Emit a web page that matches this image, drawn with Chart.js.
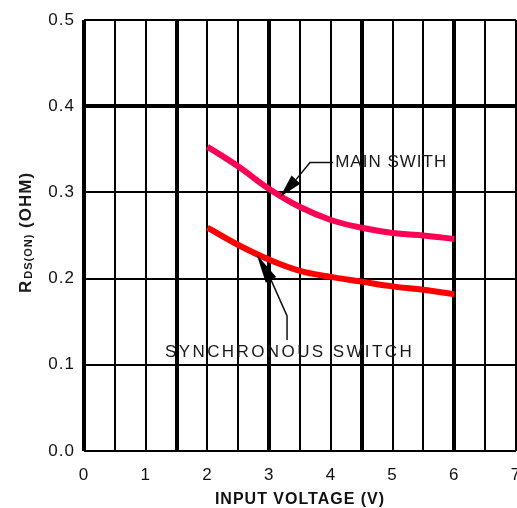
<!DOCTYPE html>
<html><head><meta charset="utf-8">
<script src="https://cdn.jsdelivr.net/npm/chart.js@4.4.1/dist/chart.umd.min.js"></script>
<style>
html,body{margin:0;padding:0;overflow:hidden;background:#fff;width:517px;height:508px}
#wrap{position:absolute;left:0;top:0;width:540px;height:508px}
</style>
</head><body><div id="wrap"><canvas id="c" width="540" height="508"></canvas></div>
<script>
// ---- data ----
const inputVoltage = [2, 2.5, 3, 3.5, 4, 4.5, 5, 5.5, 6];
const mainSwitch   = [0.353, 0.330, 0.304, 0.283, 0.268, 0.259, 0.253, 0.250, 0.246];
const syncSwitch   = [0.259, 0.239, 0.222, 0.209, 0.202, 0.1965, 0.191, 0.187, 0.182];
const seriesNames  = ['MAIN SWITH', 'SYNCHRONOUS SWITCH'];
const xTickLabels  = ['0', '1', '2', '3', '4', '5', '6', '7'];
const yTickLabels  = ['0.0', '0.1', '0.2', '0.3', '0.4', '0.5'];
const xTitle = 'INPUT VOLTAGE (V)';
const yTitleParts = ['R', 'DS(ON)', ' (OHM)'];

// ---- annotation placement (data units) ----
const callouts = [
  { text: seriesNames[0], at: [4.07, 0.3348], spacing: 1,
    path: [[4.035, 0.3348], [3.662, 0.3348], [3.435, 0.3148]], tip: [3.176, 0.2948] },
  { text: seriesNames[1], at: [1.313, 0.1148], spacing: 2.4,
    path: [[3.29, 0.1287], [3.29, 0.1566], [3.03, 0.1985]], tip: [2.80, 0.2276] }
];

const FONT = '"Liberation Sans", Arial, sans-serif';
const near = (a, b) => Math.abs(a - b) < 1e-6;
const thickX = v => near(v / 1.5, Math.round(v / 1.5));
const thickY = v => near(v, 0.4);

const spacingPlugin = {
  id: 'spacing',
  beforeDraw(chart) { chart.ctx.letterSpacing = '1px'; }
};

const calloutPlugin = {
  id: 'callouts',
  afterDatasetsDraw(chart) {
    const { ctx, scales: { x, y } } = chart;
    const px = p => [x.getPixelForValue(p[0]), y.getPixelForValue(p[1])];
    ctx.save();
    callouts.forEach(c => {
      ctx.strokeStyle = '#111';
      ctx.lineWidth = 1.5;
      ctx.beginPath();
      c.path.forEach((p, i) => { const q = px(p); i ? ctx.lineTo(q[0], q[1]) : ctx.moveTo(q[0], q[1]); });
      ctx.stroke();
      const b = px(c.path[c.path.length - 1]);
      const t = px(c.tip);
      const ang = Math.atan2(t[1] - b[1], t[0] - b[0]);
      const w = 6;
      ctx.fillStyle = '#000';
      ctx.beginPath();
      ctx.moveTo(t[0], t[1]);
      ctx.lineTo(b[0] + Math.cos(ang + Math.PI / 2) * w, b[1] + Math.sin(ang + Math.PI / 2) * w);
      ctx.lineTo(b[0] + Math.cos(ang - Math.PI / 2) * w, b[1] + Math.sin(ang - Math.PI / 2) * w);
      ctx.closePath();
      ctx.fill();
      const tp = px(c.at);
      ctx.font = '17px ' + FONT;
      ctx.letterSpacing = c.spacing + 'px';
      ctx.fillStyle = '#1a1a1a';
      ctx.textAlign = 'left';
      ctx.textBaseline = 'middle';
      ctx.fillText(c.text, tp[0], tp[1]);
    });
    ctx.restore();
  }
};

const yTitlePlugin = {
  id: 'yTitle',
  afterDraw(chart) {
    const ctx = chart.ctx;
    ctx.save();
    ctx.translate(31, 293);
    ctx.rotate(-Math.PI / 2);
    ctx.fillStyle = '#1a1a1a';
    ctx.textBaseline = 'alphabetic';
    ctx.textAlign = 'left';
    ctx.letterSpacing = '1px';
    ctx.font = 'bold 17px ' + FONT;
    ctx.fillText(yTitleParts[0], 0, 0);
    let xo = ctx.measureText(yTitleParts[0]).width + 1;
    ctx.font = 'bold 11px ' + FONT;
    ctx.fillText(yTitleParts[1], xo, 1);
    xo += ctx.measureText(yTitleParts[1]).width;
    ctx.font = 'bold 17px ' + FONT;
    ctx.fillText(yTitleParts[2], xo, 0);
    ctx.restore();
  }
};

const pts = ys => inputVoltage.map((v, i) => ({ x: v, y: ys[i] }));

new Chart(document.getElementById('c'), {
  type: 'line',
  data: {
    datasets: [
      { label: seriesNames[0], data: pts(mainSwitch), borderColor: '#ff0055', borderWidth: 6,
        pointRadius: 0, tension: 0.4, fill: false },
      { label: seriesNames[1], data: pts(syncSwitch), borderColor: '#ff0000', borderWidth: 6,
        pointRadius: 0, tension: 0.4, fill: false }
    ]
  },
  options: {
    responsive: false,
    animation: false,
    devicePixelRatio: 1,
    layout: { padding: { top: 20, right: 24, bottom: 0, left: 0 } },
    plugins: { legend: { display: false }, tooltip: { enabled: false } },
    scales: {
      x: {
        type: 'linear', min: 0, max: 7,
        ticks: {
          stepSize: 0.5, autoSkip: false, maxRotation: 0, padding: 14, color: '#111',
          font: { size: 17, family: FONT },
          callback: v => Number.isInteger(v) ? xTickLabels[v] : ''
        },
        grid: { color: '#000', drawTicks: false, lineWidth: c => thickX(c.tick.value) ? 4 : 2 },
        border: { display: false },
        title: { display: true, text: xTitle, color: '#111', padding: 0,
                 font: { size: 16, weight: 'bold', family: FONT, lineHeight: 1 } },
        afterFit: s => { s.height = 57; }
      },
      y: {
        type: 'linear', min: 0, max: 0.5,
        ticks: {
          stepSize: 0.1, padding: 9, color: '#111',
          font: { size: 17, family: FONT },
          callback: v => yTickLabels[Math.round(v * 10)]
        },
        grid: { color: '#000', drawTicks: false, lineWidth: c => thickY(c.tick.value) ? 4 : 2 },
        border: { display: false },
        afterFit: s => { s.width = 84; }
      }
    }
  },
  plugins: [spacingPlugin, calloutPlugin, yTitlePlugin]
});
</script>
</body></html>
